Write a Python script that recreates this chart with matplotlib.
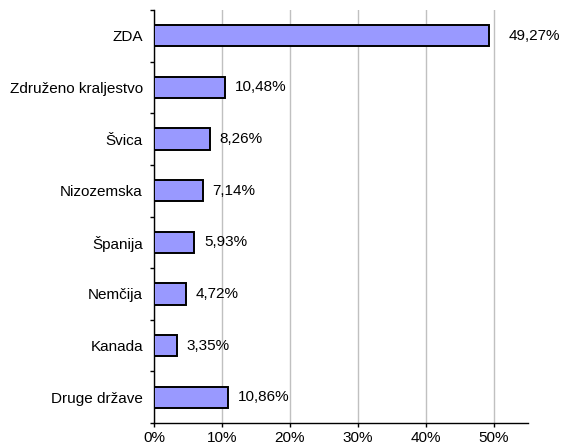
import matplotlib.pyplot as plt
import numpy as np

plt.rcParams['font.family'] = ['Liberation Sans', 'DejaVu Sans']

countries = ["ZDA", "Združeno kraljestvo", "Švica", "Nizozemska", "Španija",
             "Nemčija", "Kanada", "Druge države"]
shares = [49.27, 10.48, 8.26, 7.14, 5.93, 4.72, 3.35, 10.86]
xticks = [0, 10, 20, 30, 40, 50]

fs = 11
fig = plt.figure(figsize=(5.61, 4.45), dpi=100)
ax = fig.add_axes([0.2745, 0.0494, 0.9410 - 0.2745, 0.9775 - 0.0494])

y = np.arange(len(countries))
ax.barh(y, shares, height=0.41, color="#9999FF", edgecolor="black", linewidth=1.4, zorder=3)

for i, v in enumerate(shares):
    off = 14 if i == 0 else 7
    ax.annotate(f"{v:.2f}%".replace(".", ","), (v, i), xytext=(off, 0),
                textcoords="offset points", va="center", ha="left", fontsize=fs)

ax.set_ylim(len(countries) - 0.5, -0.5)
ax.set_xlim(0, 55)
ax.set_yticks(y)
ax.set_yticklabels(countries, fontsize=fs)
ax.set_yticks(np.arange(len(countries) + 1) - 0.5, minor=True)
ax.tick_params(axis="y", which="major", length=0, pad=8)
ax.tick_params(axis="y", which="minor", length=3, width=1, direction="out")
ax.set_xticks(xticks)
ax.set_xticklabels([f"{t}%" for t in xticks], fontsize=fs)
ax.tick_params(axis="x", length=3, width=1, direction="out", pad=3)

ax.grid(axis="x", color="#C0C0C0", linewidth=1, zorder=0)
for s in ["top", "right"]:
    ax.spines[s].set_visible(False)
for s in ["left", "bottom"]:
    ax.spines[s].set_linewidth(1)

fig.savefig("out.png", dpi=100)
